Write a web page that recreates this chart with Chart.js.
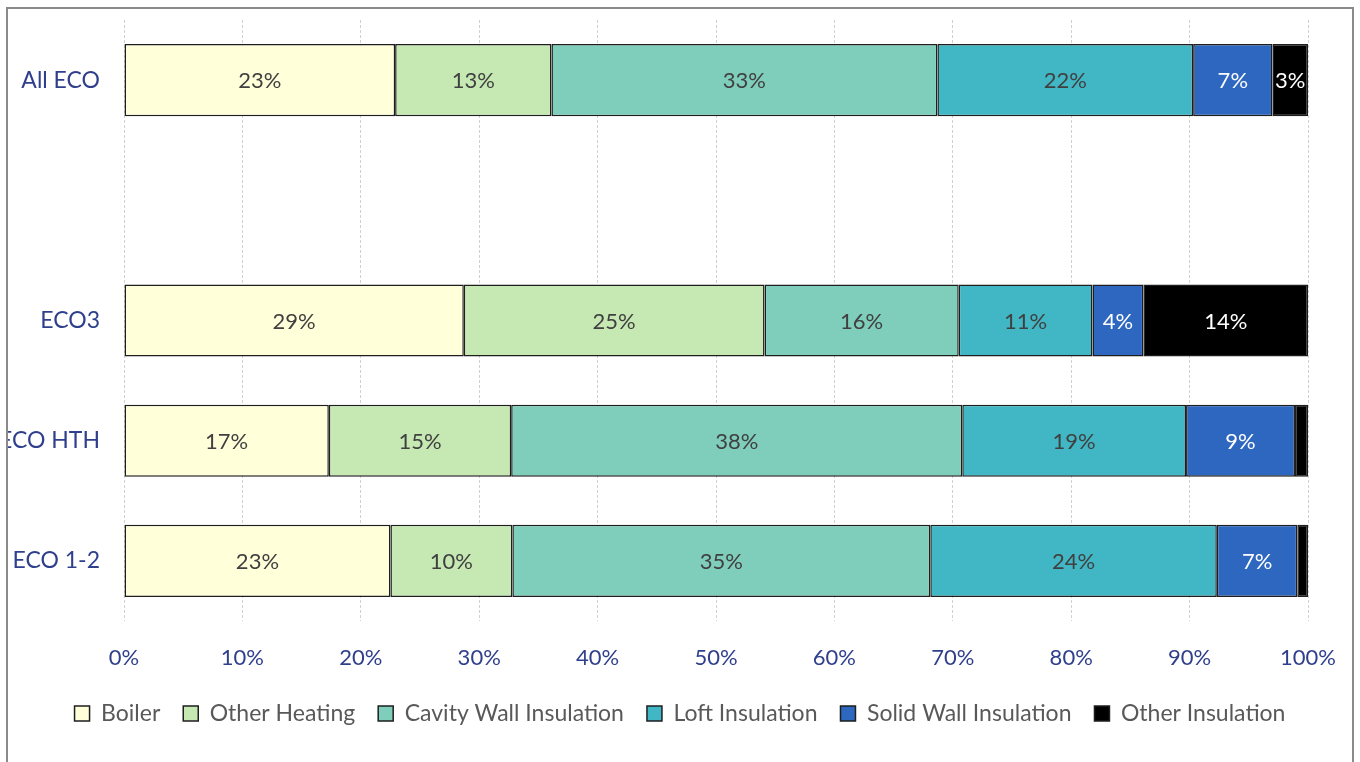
<!DOCTYPE html>
<html>
<head>
<meta charset="utf-8">
<script src="https://cdn.jsdelivr.net/npm/chart.js@4.4.1/dist/chart.umd.min.js"></script>
<style>
  html, body { margin: 0; padding: 0; background: #ffffff; }
  #wrap { position: relative; width: 1360px; height: 762px; overflow: hidden; }
  canvas { display: block; }
</style>
</head>
<body>
<div id="wrap"><canvas id="c" width="1360" height="762"></canvas></div>
<script>
const categories = ['All ECO', '', 'ECO3', 'ECO HTH', 'ECO 1-2'];
const boiler        = [22.9, null, 28.7, 17.3, 22.5];
const otherHeating  = [13.2, null, 25.4, 15.4, 10.3];
const cavityWall    = [32.6, null, 16.4, 38.1, 35.3];
const loft          = [21.6, null, 11.3, 18.9, 24.2];
const solidWall     = [6.7,  null, 4.3,  9.2,  6.8];
const otherInsul    = [3.0,  null, 13.9, 1.1,  0.9];
const seriesNames = ['Boiler', 'Other Heating', 'Cavity Wall Insulation', 'Loft Insulation', 'Solid Wall Insulation', 'Other Insulation'];
const xTicks = [0, 10, 20, 30, 40, 50, 60, 70, 80, 90, 100];

const colors = ['#FFFFDA', '#C6E9B4', '#7FCDBB', '#41B6C4', '#2D67BF', '#000000'];
const labelColors = ['#404040', '#404040', '#404040', '#404040', '#FFFFFF', '#FFFFFF'];
const seriesData = [boiler, otherHeating, cavityWall, loft, solidWall, otherInsul];

const FONT = 'Lato, "Open Sans", sans-serif';
const NAVY = '#2F3F8C';

const barLabels = {
  id: 'barLabels',
  afterDatasetsDraw(chart) {
    const ctx = chart.ctx;
    ctx.save();
    ctx.font = '22px ' + FONT;
    ctx.textAlign = 'center';
    ctx.textBaseline = 'middle';
    chart.data.datasets.forEach((ds, di) => {
      const meta = chart.getDatasetMeta(di);
      meta.data.forEach((el, i) => {
        const v = ds.data[i];
        if (v == null || v < 2) return;
        const p = el.getCenterPoint();
        ctx.fillStyle = labelColors[di];
        ctx.fillText(Math.round(v) + '%', p.x, p.y + 1);
      });
    });
    ctx.restore();
  }
};

const frame = {
  id: 'frame',
  beforeDraw(chart) {
    const ctx = chart.ctx;
    ctx.save();
    ctx.fillStyle = '#ffffff';
    ctx.fillRect(0, 0, chart.width, chart.height);
    ctx.restore();
  },
  afterDraw(chart) {
    const ctx = chart.ctx;
    ctx.save();
    ctx.fillStyle = '#ffffff';
    ctx.fillRect(0, 0, 6, chart.height);
    ctx.strokeStyle = '#8a8a8a';
    ctx.lineWidth = 2;
    ctx.strokeRect(7, 8, 1346, 800);
    ctx.restore();
  }
};

new Chart(document.getElementById('c'), {
  type: 'bar',
  data: {
    labels: categories,
    datasets: seriesData.map((d, i) => ({
      label: seriesNames[i],
      data: d,
      backgroundColor: colors[i],
      borderColor: '#1e1e1e',
      borderWidth: 1.5,
      borderSkipped: false,
      barPercentage: 0.6,
      categoryPercentage: 1.0
    }))
  },
  options: {
    indexAxis: 'y',
    responsive: false,
    animation: false,
    devicePixelRatio: 1,
    layout: { padding: { top: 20, right: 0, bottom: 27, left: 0 } },
    plugins: {
      legend: {
        position: 'bottom',
        labels: {
          font: { family: FONT, size: 23 },
          color: '#595959',
          boxWidth: 15,
          boxHeight: 15,
          padding: 23
        }
      },
      tooltip: { enabled: false }
    },
    scales: {
      x: {
        stacked: true,
        min: 0,
        max: 100,
        afterBuildTicks(scale) { scale.ticks = xTicks.map(v => ({ value: v })); },
        afterFit(scale) { scale.height = 58; },
        ticks: {
          callback: v => v + '%',
          color: NAVY,
          font: { family: FONT, size: 22 },
          padding: 24,
          maxRotation: 0
        },
        grid: { color: '#d0d0d0', drawTicks: false, lineWidth: 1 },
        border: { display: false, dash: [3, 2] }
      },
      y: {
        stacked: true,
        afterFit(scale) { scale.width = 124; scale.paddingTop = 0; scale.paddingBottom = 0; },
        ticks: {
          color: NAVY,
          font: { family: FONT, size: 23 },
          padding: 24
        },
        grid: { display: false, drawTicks: false },
        border: { display: false }
      },
      yRight: {
        type: 'category',
        position: 'right',
        labels: categories,
        afterFit(scale) { scale.width = 52; scale.paddingTop = 0; scale.paddingBottom = 0; },
        ticks: { display: false },
        grid: { display: false, drawTicks: false },
        border: { display: false }
      }
    }
  },
  plugins: [frame, barLabels]
});
</script>
</body>
</html>
